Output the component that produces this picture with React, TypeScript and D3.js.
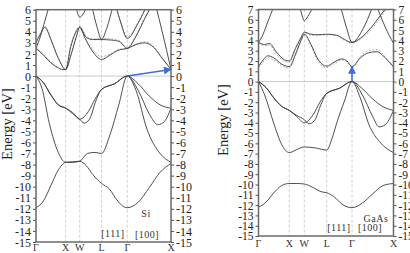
import React, { useRef, useEffect } from 'react';
import * as d3 from 'd3';

type Pt = [number, number];

// k-path: Γ X W L Γ X, indexed 0..5
const kLabels = ['Γ', 'X', 'W', 'L', 'Γ', 'X'];

// ---- Si bands (eV, VBM = 0) ----
const siV1: Pt[] = [[0, -11.9], [0.25, -11.3], [0.5, -9.9], [0.75, -8.5], [1, -7.8], [1.5, -7.75], [2, -7.7], [2.3, -8.1], [2.6, -8.9], [3, -9.7], [3.3, -10.2], [3.6, -11.2], [3.85, -11.8], [4, -11.9], [4.25, -11.4], [4.5, -10.1], [4.75, -8.7], [5, -7.9]];
const siV2: Pt[] = [[0, 0], [0.2, -1.1], [0.45, -4.3], [0.75, -6.9], [1, -7.8], [1.5, -7.8], [2, -7.7], [2.35, -7.0], [2.7, -6.9], [3, -7.0], [3.33, -5.3], [3.67, -2.6], [4, 0], [4.2, -1.3], [4.45, -4.8], [4.75, -7.0], [5, -7.8]];
const siV3: Pt[] = [[0, 0], [0.25, -0.6], [0.5, -1.7], [0.75, -2.6], [1, -2.9], [1.5, -3.4], [2, -3.9], [2.2, -4.25], [2.45, -3.9], [2.75, -2.2], [3, -1.2], [3.5, -0.7], [4, 0], [4.25, -0.7], [4.5, -1.8], [4.75, -2.6], [5, -2.9]];
const siV4: Pt[] = [[0, 0], [0.25, -0.6], [0.5, -1.7], [0.75, -2.6], [1, -2.9], [1.5, -3.3], [2, -3.9], [2.4, -3.2], [2.7, -2.1], [3, -1.2], [3.5, -0.7], [4, 0], [4.25, -1.3], [4.5, -3.4], [4.7, -4.4], [4.85, -4.1], [5, -2.9]];
const siC1: Pt[] = [[0, 2.5], [0.25, 1.9], [0.5, 1.2], [0.75, 0.75], [0.9, 0.6], [1, 0.6], [1.4, 2.0], [1.75, 3.5], [2, 4.4], [2.25, 3.4], [2.6, 2.2], [3, 1.5], [3.33, 1.9], [3.67, 2.35], [4, 2.5], [4.2, 2.85], [4.4, 3.0], [4.6, 2.6], [4.8, 1.6], [5, 0.6]];
const siC2: Pt[] = [[0, 3.0], [0.15, 3.8], [0.3, 4.4], [0.5, 3.3], [0.75, 1.6], [1, 0.6], [1.35, 2.6], [1.7, 3.9], [2, 4.4], [2.3, 3.5], [2.6, 3.3], [3, 3.3], [3.4, 3.25], [3.7, 3.1], [4, 2.5], [4.2, 3.6], [4.4, 5.2], [4.55, 6.3]];
const siC3: Pt[] = [[0, 2.5], [0.15, 3.6], [0.3, 5.0], [0.45, 6.4]];
const siC4: Pt[] = [[3.55, 6.4], [3.75, 4.8], [4, 3.4], [4.25, 4.8], [4.45, 6.4]];
const siC5: Pt[] = [[1.7, 6.4], [1.9, 5.5], [2, 5.3], [2.15, 5.6], [2.35, 6.4]];
const siC6: Pt[] = [[2.55, 6.4], [2.8, 4.4], [3, 3.3], [3.2, 4.3], [3.45, 6.4]];
const siC7: Pt[] = [[4.65, 6.4], [4.8, 4.0], [5, 0.6]];
// second calculation (dashed)
const siC1Dash: Pt[] = [[0, 2.6], [0.25, 2.0], [0.5, 1.25], [0.75, 0.7], [0.9, 0.55], [1, 0.55], [1.4, 2.1], [1.75, 3.6], [2, 4.5], [2.25, 3.5], [2.6, 2.4], [3, 1.75], [3.33, 2.0], [3.67, 2.4], [4, 2.5], [4.2, 2.9], [4.4, 3.1], [4.6, 2.7], [4.8, 1.6], [5, 0.6]];
const siC2Dash: Pt[] = [[0, 3.2], [0.15, 3.9], [0.3, 4.5], [0.5, 3.4], [0.75, 1.7], [1, 0.55], [1.35, 2.7], [1.7, 4.0], [2, 4.5], [2.3, 3.6], [2.6, 3.35], [3, 3.4], [3.4, 3.35], [3.7, 3.2], [4, 2.6], [4.2, 3.7], [4.4, 5.3], [4.55, 6.4]];
const siC4Dash: Pt[] = [[3.55, 6.4], [3.75, 4.9], [4, 3.55], [4.25, 4.9], [4.45, 6.4]];

// ---- GaAs bands ----
const gaV1: Pt[] = [[0, -12.2], [0.25, -11.7], [0.5, -10.8], [0.75, -10.1], [1, -9.9], [1.5, -9.9], [2, -9.95], [2.4, -10.3], [2.75, -10.7], [3, -10.8], [3.3, -11.2], [3.6, -11.9], [3.85, -12.2], [4, -12.25], [4.25, -11.8], [4.5, -10.9], [4.75, -10.1], [5, -9.9]];
const gaV2: Pt[] = [[0, 0], [0.2, -1.3], [0.5, -4.1], [0.75, -6.1], [1, -6.9], [1.5, -6.6], [2, -6.35], [2.5, -6.45], [3, -6.65], [3.2, -5.6], [3.4, -4.0], [3.7, -1.9], [4, 0], [4.2, -1.6], [4.4, -4.1], [4.7, -6.0], [5, -6.9]];
const gaV3: Pt[] = [[0, 0], [0.25, -0.6], [0.5, -1.6], [0.75, -2.4], [1, -2.8], [1.5, -3.3], [2, -3.7], [2.2, -4.1], [2.45, -3.8], [2.75, -2.2], [3, -1.15], [3.5, -0.65], [4, 0], [4.25, -0.7], [4.5, -1.7], [4.75, -2.45], [5, -2.8]];
const gaV4: Pt[] = [[0, 0], [0.25, -0.6], [0.5, -1.6], [0.75, -2.4], [1, -2.8], [1.5, -3.4], [2, -4.0], [2.4, -3.2], [2.7, -2.0], [3, -1.15], [3.5, -0.65], [4, 0], [4.25, -1.3], [4.5, -3.4], [4.65, -4.4], [4.8, -4.2], [5, -2.8]];
const gaC1: Pt[] = [[0, 1.45], [0.15, 2.1], [0.3, 2.5], [0.5, 2.3], [0.75, 1.7], [1, 1.45], [1.4, 2.6], [1.75, 3.9], [2, 4.6], [2.3, 3.6], [2.6, 2.2], [3, 1.5], [3.3, 1.9], [3.6, 2.2], [3.8, 2.0], [4, 1.45], [4.2, 2.3], [4.4, 2.8], [4.6, 2.9], [4.8, 2.3], [5, 1.45]];
const gaC2: Pt[] = [[0, 3.8], [0.2, 3.6], [0.35, 3.7], [0.6, 2.8], [0.85, 2.1], [1, 2.0], [1.4, 3.2], [1.75, 4.2], [2, 4.8], [2.3, 4.6], [2.6, 4.55], [3, 4.6], [3.4, 4.5], [3.7, 4.1], [4, 3.8], [4.2, 4.2], [4.45, 5.2], [4.7, 6.5], [4.85, 7.3]];
const gaC3: Pt[] = [[0, 3.8], [0.15, 4.6], [0.3, 5.8], [0.5, 7.3]];
const gaC4: Pt[] = [[1.7, 7.3], [1.9, 6.2], [2, 5.9], [2.15, 6.3], [2.4, 7.3]];
const gaC5: Pt[] = [[3.55, 7.3], [3.8, 5.1], [4, 3.8], [4.25, 5.0], [4.5, 7.3]];
const gaC6: Pt[] = [[4.6, 7.3], [4.8, 5.3], [5, 3.7]];
const gaC1Dash: Pt[] = [[0, 1.3], [0.15, 1.9], [0.3, 2.3], [0.5, 2.1], [0.75, 1.55], [1, 1.3], [1.4, 2.5], [1.75, 3.8], [2, 4.5], [2.3, 3.5], [2.6, 2.0], [3, 1.35], [3.3, 1.75], [3.6, 2.1], [3.8, 1.9], [4, 1.3], [4.2, 2.4], [4.4, 3.0], [4.6, 3.1], [4.8, 2.4], [5, 1.3]];
const gaC2Dash: Pt[] = [[0, 3.75], [0.2, 3.5], [0.35, 3.55], [0.6, 2.6], [0.85, 1.95], [1, 1.85], [1.4, 3.1], [1.75, 4.1], [2, 4.7], [2.3, 4.5], [2.6, 4.5], [3, 4.55], [3.4, 4.45], [3.7, 4.0], [4, 3.75], [4.2, 4.1], [4.45, 5.0], [4.7, 6.3], [4.85, 7.2]];

interface PanelSpec {
  id: string;
  kx: number[];
  top: number;
  bottom: number;
  eMin: number;
  eMax: number;
  bands: Pt[][];
  dashed: Pt[][];
  arrow: [Pt, Pt];
  tickFont: number;
  kLabelY: number;
  titleX: number;
  titleY: number;
  notes: { text: string; x: number; y: number }[];
}

const panels: PanelSpec[] = [
  {
    id: 'si',
    kx: [36, 65.7, 79.7, 101.5, 127.3, 171],
    top: 9.7, bottom: 242, eMin: -15, eMax: 6,
    bands: [siV1, siV2, siV3, siV4, siC1, siC2, siC3, siC4, siC5, siC6, siC7],
    dashed: [siC1Dash, siC2Dash, siC4Dash],
    arrow: [[4, 0], [5, 0.6]],
    tickFont: 12, kLabelY: 251, titleX: 12, titleY: 124,
    notes: [{ text: 'Si', x: 146, y: 217 }, { text: '[111]', x: 113, y: 237 }, { text: '[100]', x: 147, y: 238 }]
  },
  {
    id: 'gaas',
    kx: [258.5, 289.3, 304.3, 326.7, 352, 393.5],
    top: 9.5, bottom: 236, eMin: -15, eMax: 7,
    bands: [gaV1, gaV2, gaV3, gaV4, gaC1, gaC2, gaC3, gaC4, gaC5, gaC6],
    dashed: [gaC1Dash, gaC2Dash],
    arrow: [[4, 0], [4, 1.45]],
    tickFont: 11.5, kLabelY: 247, titleX: 228, titleY: 120,
    notes: [{ text: 'GaAs', x: 376, y: 222 }, { text: '[111]', x: 339, y: 231 }, { text: '[100]', x: 370, y: 231 }]
  }
];

const SERIF = '"Times New Roman", "Liberation Serif", serif';

function drawPanel(svg: d3.Selection<SVGSVGElement, unknown, null, undefined>, p: PanelSpec) {
  const x = d3.scaleLinear().domain([0, 1, 2, 3, 4, 5]).range(p.kx);
  const y = d3.scaleLinear().domain([p.eMin, p.eMax]).range([p.bottom, p.top]);
  const x0 = p.kx[0];
  const x1 = p.kx[5];
  const g = svg.append('g');

  svg.select('defs').append('clipPath').attr('id', `clip-${p.id}`)
    .append('rect').attr('x', x0).attr('y', p.top).attr('width', x1 - x0).attr('height', p.bottom - p.top);

  // guides at high-symmetry points and E = 0
  g.selectAll('line.kline').data([1, 2, 3, 4]).join('line')
    .attr('x1', d => x(d)).attr('x2', d => x(d))
    .attr('y1', p.top).attr('y2', p.bottom)
    .attr('stroke', '#c4c4c4').attr('stroke-width', 0.8).attr('stroke-dasharray', '3,2');
  g.append('line')
    .attr('x1', x0).attr('x2', x1).attr('y1', y(0)).attr('y2', y(0))
    .attr('stroke', '#c4c4c4').attr('stroke-width', 0.9);

  const line = d3.line<Pt>().x(d => x(d[0])).y(d => y(d[1])).curve(d3.curveMonotoneX);
  const plot = g.append('g').attr('clip-path', `url(#clip-${p.id})`);
  plot.selectAll('path.dash').data(p.dashed).join('path')
    .attr('d', d => line(d))
    .attr('fill', 'none').attr('stroke', '#9a9a9a').attr('stroke-width', 0.8).attr('stroke-dasharray', '2,1.5');
  plot.selectAll('path.band').data(p.bands).join('path')
    .attr('d', d => line(d))
    .attr('fill', 'none').attr('stroke', '#3a3a3a').attr('stroke-width', 0.9);

  // frame
  g.append('rect').attr('x', x0).attr('y', p.top).attr('width', x1 - x0).attr('height', p.bottom - p.top)
    .attr('fill', 'none').attr('stroke', '#6a6a6a').attr('stroke-width', 1.5);

  const ticks = d3.range(p.eMin, p.eMax + 1);
  const left = g.append('g').attr('transform', `translate(${x0},0)`)
    .call(d3.axisLeft(y).tickValues(ticks).tickSize(3).tickPadding(2).tickFormat(d => String(d)));
  const right = g.append('g').attr('transform', `translate(${x1},0)`)
    .call(d3.axisRight(y).tickValues(ticks).tickSize(3).tickPadding(2).tickFormat(d => String(d)));
  [left, right].forEach(ax => {
    ax.attr('font-family', null).attr('font-size', null);
    ax.select('.domain').remove();
    ax.selectAll('line').attr('stroke', '#555');
    ax.selectAll('text')
      .style('font-family', SERIF).style('font-size', `${p.tickFont}px`)
      .attr('fill', '#222').attr('dy', '0.34em');
  });

  g.selectAll('text.klabel').data(kLabels).join('text')
    .attr('x', (_d, i) => x(i)).attr('y', p.kLabelY)
    .attr('text-anchor', 'middle').style('font-family', SERIF).style('font-size', '10px').attr('fill', '#333')
    .text(d => d);

  g.append('text')
    .attr('transform', `translate(${p.titleX},${p.titleY}) rotate(-90)`)
    .attr('text-anchor', 'middle').style('font-family', SERIF).style('font-size', '14.5px').attr('fill', '#222')
    .text('Energy [eV]');

  g.selectAll('text.note').data(p.notes).join('text')
    .attr('x', d => d.x).attr('y', d => d.y)
    .attr('text-anchor', 'middle').style('font-family', SERIF).style('font-size', '10px').attr('fill', '#333')
    .attr('letter-spacing', 0.5)
    .text(d => d.text);

  const [a, b] = p.arrow;
  g.append('line')
    .attr('x1', x(a[0])).attr('y1', y(a[1]))
    .attr('x2', x(b[0])).attr('y2', y(b[1]))
    .attr('stroke', '#3b6fd6').attr('stroke-width', 1.6).attr('marker-end', 'url(#arrow-blue)');
}

export default function App() {
  const svgRef = useRef<SVGSVGElement>(null);

  useEffect(() => {
    const svg = d3.select(svgRef.current!);
    svg.selectAll('*').remove();
    const defs = svg.append('defs');
    defs.append('marker').attr('id', 'arrow-blue')
      .attr('viewBox', '0 0 10 10').attr('refX', 9).attr('refY', 5)
      .attr('markerWidth', 5).attr('markerHeight', 5).attr('orient', 'auto')
      .append('path').attr('d', 'M0,0L10,5L0,10Z').attr('fill', '#3b6fd6');
    svg.append('rect').attr('width', 410).attr('height', 253).attr('fill', '#fff');
    panels.forEach(p => drawPanel(svg, p));
  }, []);

  return (
    <svg ref={svgRef} width={410} height={253}
      style={{ position: 'absolute', left: 0, top: 0, display: 'block' }} />
  );
}
